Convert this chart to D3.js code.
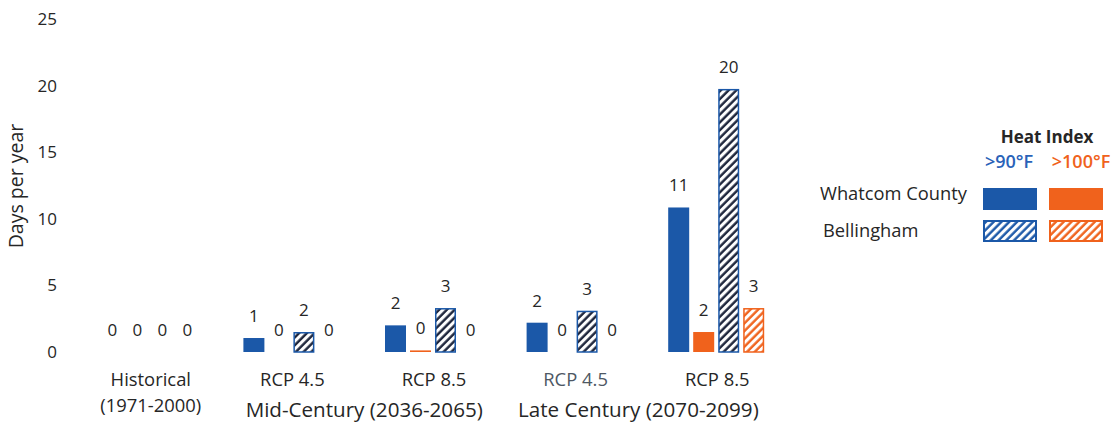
<!DOCTYPE html>
<html>
<head>
<meta charset="utf-8">
<script src="https://cdn.jsdelivr.net/npm/d3@7"></script>
<style>
  html, body { margin: 0; padding: 0; background: #fff; }
  svg { display: block; }
  text { font-family: "Open Sans", sans-serif; fill: #262626; }
</style>
</head>
<body>
<svg id="chart" width="1113" height="423"></svg>
<script>
// ---------- data ----------
const groups = ["Historical", "Mid RCP 4.5", "Mid RCP 8.5", "Late RCP 4.5", "Late RCP 8.5"];
const groupLabels = ["Historical", "RCP 4.5", "RCP 8.5", "RCP 4.5", "RCP 8.5"];
const groupSubLabels = ["(1971-2000)", "", "", "", ""];
const periods = ["Mid-Century (2036-2065)", "Late Century (2070-2099)"];
const periodGroups = [["Mid RCP 4.5", "Mid RCP 8.5"], ["Late RCP 4.5", "Late RCP 8.5"]];
const series = ["Whatcom >90", "Whatcom >100", "Bellingham >90", "Bellingham >100"];
// bar heights (days per year, as drawn)
const whatcom90 = [0, 1.05, 2.0, 2.2, 10.85];
const whatcom100 = [0, 0, 0.12, 0, 1.5];
const bellingham90 = [0, 1.5, 3.3, 3.1, 19.75];
const bellingham100 = [0, 0, 0, 0, 3.3];
// printed (rounded) labels
const whatcom90Labels = [0, 1, 2, 2, 11];
const whatcom100Labels = [0, 0, 0, 0, 2];
const bellingham90Labels = [0, 2, 3, 3, 20];
const bellingham100Labels = [0, 0, 0, 0, 3];
const yTicks = [0, 5, 10, 15, 20, 25];
const legendRows = ["Whatcom County", "Bellingham"];
const legendCols = [">90°F", ">100°F"];

const values = [whatcom90, whatcom100, bellingham90, bellingham100];
const labels = [whatcom90Labels, whatcom100Labels, bellingham90Labels, bellingham100Labels];

const BLUE = "#1b58a8", ORANGE = "#f0621c";

const svg = d3.select("#chart");
const defs = svg.append("defs");
function hatch(id, color) {
  const p = defs.append("pattern").attr("id", id)
    .attr("patternUnits", "userSpaceOnUse").attr("width", 5.5).attr("height", 5.5)
    .attr("patternTransform", "rotate(45)");
  p.append("rect").attr("width", 5.5).attr("height", 5.5).attr("fill", "#fff");
  p.append("line").attr("x1", 1.5).attr("x2", 1.5).attr("y1", 0).attr("y2", 5.5)
    .attr("stroke", color).attr("stroke-width", 2.4);
}
hatch("hDark", "#1a2238");
hatch("hBlue", BLUE);
hatch("hOrange", ORANGE);

const fills = [BLUE, ORANGE, "url(#hDark)", "url(#hOrange)"];
const strokes = [null, null, BLUE, ORANGE];
const legendFills = [[BLUE, ORANGE], ["url(#hBlue)", "url(#hOrange)"]];
const legendStrokes = [[null, null], [BLUE, ORANGE]];

// ---------- scales ----------
const y = d3.scaleLinear().domain([0, 25]).range([352, 19]);
const x0 = d3.scaleBand().domain(groups).range([79, 787]);
const x1 = d3.scaleBand().domain(series).range([-50, 50]).paddingInner(0.16).paddingOuter(0.08);

// y axis (labels only)
const yAxis = d3.axisLeft(y).tickValues(yTicks).tickSize(0).tickPadding(0);
const gy = svg.append("g").attr("transform", "translate(57,0)").call(yAxis);
gy.select(".domain").remove();
gy.selectAll("text").style("font-family", "Open Sans, sans-serif").style("font-size", "17px").attr("fill", "#262626");

svg.append("text").attr("transform", "translate(23,186) rotate(-90)")
  .attr("text-anchor", "middle").style("font-size", "19.5px").text("Days per year");

// bars
groups.forEach((g, gi) => {
  const cx = x0(g) + x0.bandwidth() / 2;
  series.forEach((s, si) => {
    const v = values[si][gi];
    const bx = cx + x1(s);
    if (v > 0) {
      const r = svg.append("rect")
        .attr("x", bx).attr("y", y(v))
        .attr("width", x1.bandwidth()).attr("height", y(0) - y(v))
        .attr("fill", fills[si]);
      if (strokes[si]) {
        r.attr("x", bx + 0.75).attr("width", x1.bandwidth() - 1.5)
         .attr("y", y(v) + 0.75).attr("height", Math.max(0, y(0) - y(v) - 0.75))
         .attr("stroke", strokes[si]).attr("stroke-width", 1.5);
      }
    }
    svg.append("text").attr("x", bx + x1.bandwidth() / 2).attr("y", y(v) - 16)
      .attr("text-anchor", "middle").style("font-size", "17px")
      .text(labels[si][gi]);
  });
  svg.append("text").attr("x", cx + 1).attr("y", 386).attr("text-anchor", "middle")
    .style("font-size", "18.4px")
    .style("fill", gi === 3 ? "#4e5864" : "#262626")
    .text(groupLabels[gi]);
  if (groupSubLabels[gi]) {
    svg.append("text").attr("x", cx + 1).attr("y", 412).attr("text-anchor", "middle")
      .style("font-size", "18.4px").text(groupSubLabels[gi]);
  }
});

periods.forEach((p, pi) => {
  const a = x0(periodGroups[pi][0]) + x0.bandwidth() / 2;
  const b = x0(periodGroups[pi][1]) + x0.bandwidth() / 2;
  svg.append("text").attr("x", (a + b) / 2 + (pi === 0 ? 2 : -7)).attr("y", 417).attr("text-anchor", "middle")
    .style("font-size", "20.6px").text(p);
});

// legend
svg.append("text").attr("x", 1047).attr("y", 143).attr("text-anchor", "middle")
  .style("font-size", "17px").style("font-weight", "bold").text("Heat Index");
const legColX = [983, 1049];
const legLabelX = [1009, 1081];
legendCols.forEach((c, ci) => {
  svg.append("text").attr("x", legLabelX[ci]).attr("y", 168).attr("text-anchor", "middle")
    .style("font-size", "18px").style("font-weight", "600")
    .style("fill", ci === 0 ? "#2a62b8" : ORANGE).text(c);
});
const legRowY = [188, 220];
const legTextY = [200, 237];
legendRows.forEach((r, ri) => {
  svg.append("text").attr("x", ri === 0 ? 820 : 823).attr("y", legTextY[ri])
    .style("font-size", "18.3px").text(r);
  legendCols.forEach((c, ci) => {
    const rect = svg.append("rect").attr("x", legColX[ci]).attr("y", legRowY[ri])
      .attr("width", 54).attr("height", 22).attr("fill", legendFills[ri][ci]);
    if (legendStrokes[ri][ci]) {
      rect.attr("x", legColX[ci] + 1).attr("y", legRowY[ri] + 1).attr("width", 52).attr("height", 20)
        .attr("stroke", legendStrokes[ri][ci]).attr("stroke-width", 2);
    }
  });
});
</script>
</body>
</html>
